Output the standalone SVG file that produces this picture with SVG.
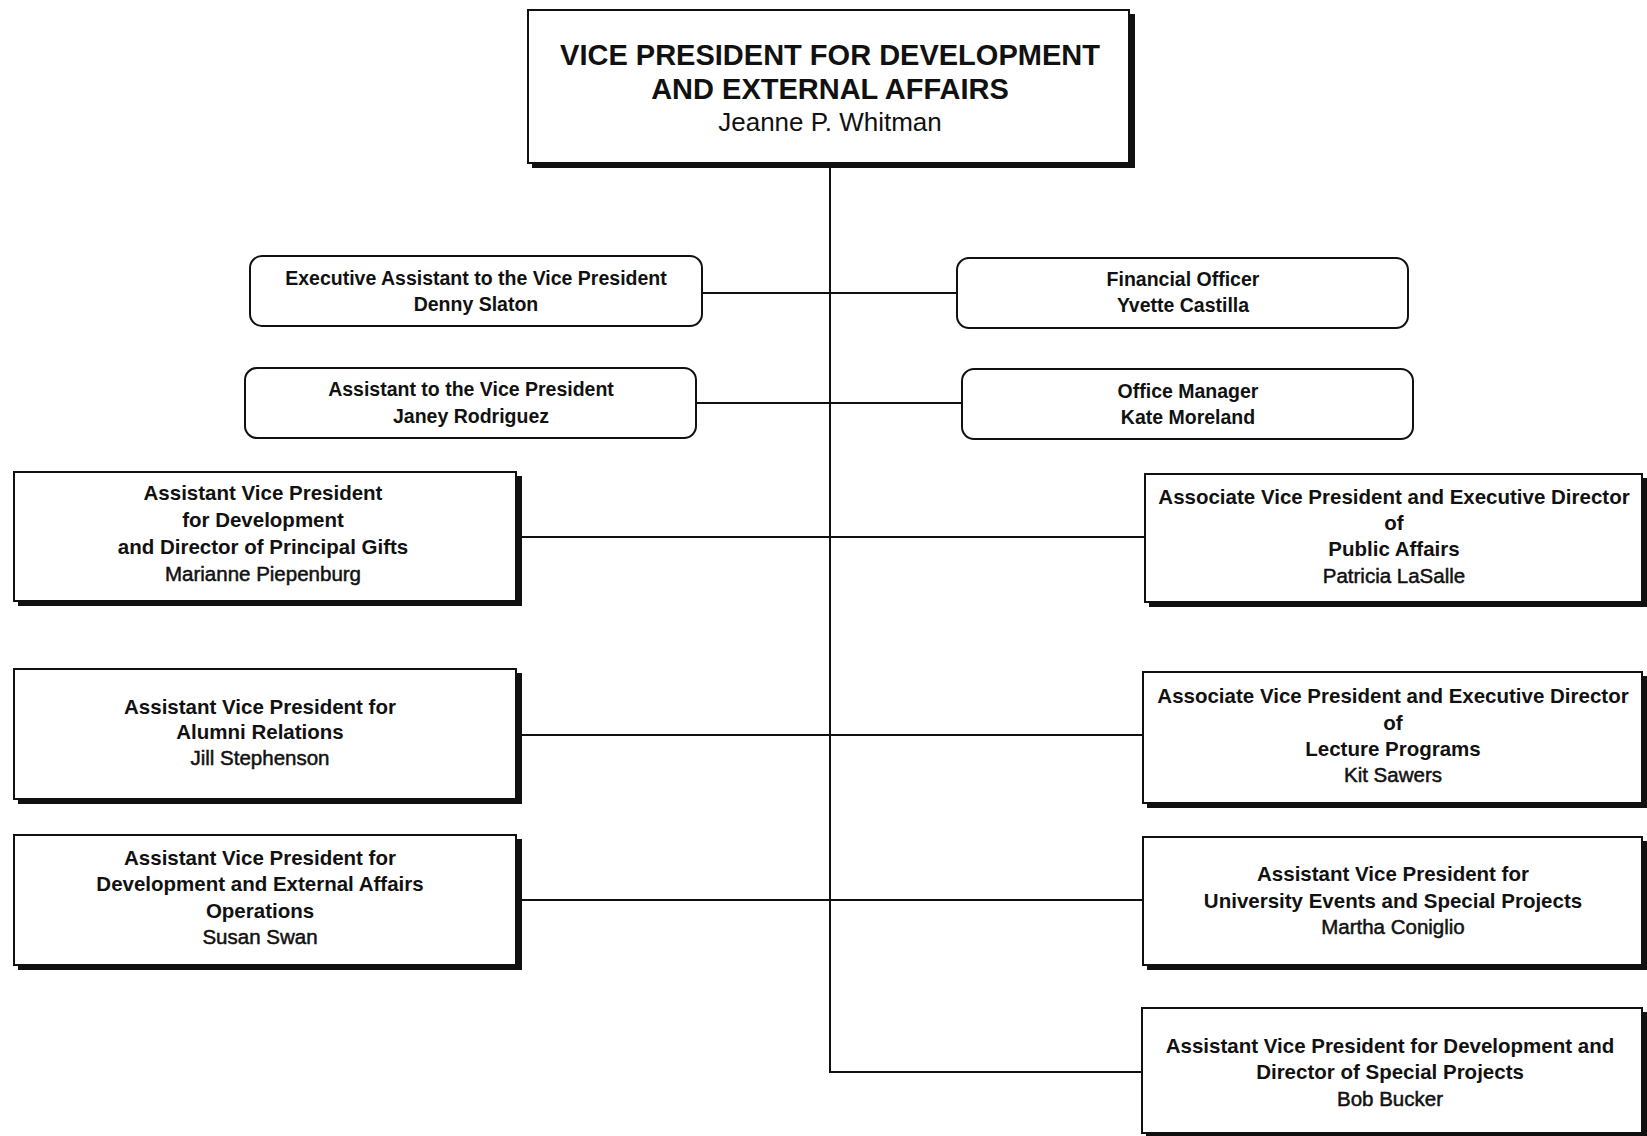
<svg xmlns="http://www.w3.org/2000/svg" width="1647" height="1136" viewBox="0 0 1647 1136">
<style>
.bg{fill:#ffffff}
.box{fill:#ffffff;stroke:#111;stroke-width:2}
.shadow{fill:#111}
.rbox{fill:#ffffff;stroke:#111;stroke-width:2}
.conn{fill:none;stroke:#111;stroke-width:2}
text{font-family:"Liberation Sans",Arial,sans-serif;fill:#111;text-anchor:middle}
.t1{font-size:29px;font-weight:bold}
.n1{font-size:26px}
.t2{font-size:19.5px;font-weight:bold}
.t3{font-size:20.5px;font-weight:bold}
.n3{font-size:20.5px;stroke:#111;stroke-width:0.5}
</style>
<rect class="bg" x="0" y="0" width="1647" height="1136"/>
<g id="connectors">
<path class="conn" d="M830,165 V1072 H1142"/>
<path class="conn" d="M702,293 H957"/>
<path class="conn" d="M696,403 H962"/>
<path class="conn" d="M518,537 H1145"/>
<path class="conn" d="M518,735 H1143"/>
<path class="conn" d="M518,900 H1143"/>
</g>
<g id="vp">
<rect class="shadow" x="532" y="14" width="603" height="154"/>
<rect class="box" x="528" y="10" width="601" height="153"/>
<text class="t1" x="830" y="65">VICE PRESIDENT FOR DEVELOPMENT</text>
<text class="t1" x="830" y="99">AND EXTERNAL AFFAIRS</text>
<text class="n1" x="830" y="131">Jeanne P. Whitman</text>
</g>
<g id="exec-assistant">
<rect class="rbox" x="250" y="256" width="452" height="70" rx="12"/>
<text class="t2" x="476" y="285">Executive Assistant to the Vice President</text>
<text class="t2" x="476" y="311">Denny Slaton</text>
</g>
<g id="financial-officer">
<rect class="rbox" x="957" y="258" width="451" height="70" rx="12"/>
<text class="t2" x="1183" y="286">Financial Officer</text>
<text class="t2" x="1183" y="312">Yvette Castilla</text>
</g>
<g id="assistant">
<rect class="rbox" x="245" y="368" width="451" height="70" rx="12"/>
<text class="t2" x="471" y="396">Assistant to the Vice President</text>
<text class="t2" x="471" y="423">Janey Rodriguez</text>
</g>
<g id="office-manager">
<rect class="rbox" x="962" y="369" width="451" height="70" rx="12"/>
<text class="t2" x="1188" y="398">Office Manager</text>
<text class="t2" x="1188" y="424">Kate Moreland</text>
</g>
<g id="principal-gifts">
<rect class="shadow" x="18" y="476" width="504" height="130"/>
<rect class="box" x="14" y="472" width="502" height="129"/>
<text class="t3" x="263" y="500">Assistant Vice President</text>
<text class="t3" x="263" y="527">for Development</text>
<text class="t3" x="263" y="554">and Director of Principal Gifts</text>
<text class="n3" x="263" y="581">Marianne Piepenburg</text>
</g>
<g id="public-affairs">
<rect class="shadow" x="1149" y="478" width="498" height="129"/>
<rect class="box" x="1145" y="474" width="497" height="128"/>
<text class="t3" x="1394" y="504">Associate Vice President and Executive Director</text>
<text class="t3" x="1394" y="530">of</text>
<text class="t3" x="1394" y="556">Public Affairs</text>
<text class="n3" x="1394" y="583">Patricia LaSalle</text>
</g>
<g id="alumni-relations">
<rect class="shadow" x="18" y="673" width="504" height="131"/>
<rect class="box" x="14" y="669" width="502" height="130"/>
<text class="t3" x="260" y="714">Assistant Vice President for</text>
<text class="t3" x="260" y="739">Alumni Relations</text>
<text class="n3" x="260" y="765">Jill Stephenson</text>
</g>
<g id="lecture-programs">
<rect class="shadow" x="1147" y="676" width="500" height="132"/>
<rect class="box" x="1143" y="672" width="499" height="131"/>
<text class="t3" x="1393" y="703">Associate Vice President and Executive Director</text>
<text class="t3" x="1393" y="730">of</text>
<text class="t3" x="1393" y="756">Lecture Programs</text>
<text class="n3" x="1393" y="782">Kit Sawers</text>
</g>
<g id="operations">
<rect class="shadow" x="18" y="839" width="504" height="131"/>
<rect class="box" x="14" y="835" width="502" height="130"/>
<text class="t3" x="260" y="865">Assistant Vice President for</text>
<text class="t3" x="260" y="891">Development and External Affairs</text>
<text class="t3" x="260" y="918">Operations</text>
<text class="n3" x="260" y="944">Susan Swan</text>
</g>
<g id="university-events">
<rect class="shadow" x="1147" y="841" width="500" height="129"/>
<rect class="box" x="1143" y="837" width="499" height="128"/>
<text class="t3" x="1393" y="881">Assistant Vice President for</text>
<text class="t3" x="1393" y="908">University Events and Special Projects</text>
<text class="n3" x="1393" y="934">Martha Coniglio</text>
</g>
<g id="special-projects">
<rect class="shadow" x="1146" y="1012" width="501" height="124"/>
<rect class="box" x="1142" y="1008" width="500" height="125"/>
<text class="t3" x="1390" y="1053">Assistant Vice President for Development  and</text>
<text class="t3" x="1390" y="1079">Director of Special Projects</text>
<text class="n3" x="1390" y="1106">Bob Bucker</text>
</g>
</svg>
